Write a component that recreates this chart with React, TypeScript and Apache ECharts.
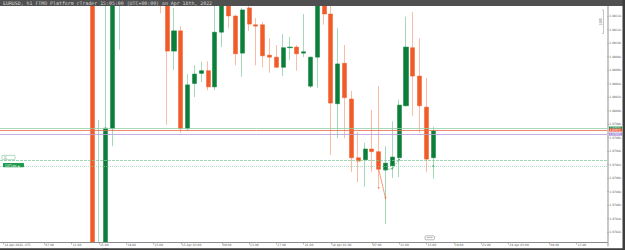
import React, { useEffect, useRef } from "react";
import * as echarts from "echarts";

// ---- data ----
const SLOT_COUNT = 89; // hourly slots shown on the time axis
const slots: string[] = Array.from({ length: SLOT_COUNT }, (_, i) => String(i));

const tickSlots = [0, 6, 10, 14, 18, 22, 26, 32, 36, 40, 44, 48, 54, 58, 62, 66, 70, 74, 80, 84];
const tickLabels = [
  "14 Apr 2022, UTC", "07:00", "11:00", "15:00", "19:00", "23:00", "15 Apr 03:00", "09:00",
  "13:00", "17:00", "21:00", "18 Apr 01:00", "07:00", "11:00", "15:00", "19:00", "23:00",
  "19 Apr 03:00", "09:00", "13:00",
];

const opens = [
  1.0890, 1.0893, 1.0896, 1.0898, 1.0890, 1.0887, 1.0891, 1.0889, 1.0884, 1.0887,
  1.0902, 1.0915, 1.0874, 1.0840, 1.0772, 1.0779, 1.07973, 1.0829, 1.0835, 1.0830,
  1.0833, 1.0826, 1.0829, 1.0825, 1.0821, 1.08088, 1.08118, 1.07973, 1.0804, 1.08055,
  1.08059, 1.08035, 1.08116, 1.0818, 1.0814, 1.08085, 1.08152, 1.08127, 1.08127, 1.08082,
  1.08079, 1.08064, 1.08093, 1.08094, 1.08085, 1.08036, 1.08079, 1.0817, 1.08143, 1.0801,
  1.0807, 1.08017, 1.0793, 1.07927, 1.07943, 1.07939, 1.07912, 1.07918, 1.0793, 1.08007,
  1.08093, 1.08051, 1.08005, 1.0793,
];
const highs = [
  1.0897, 1.0899, 1.0902, 1.0901, 1.0895, 1.0893, 1.0898, 1.0896, 1.0890, 1.0905,
  1.0924, 1.0919, 1.0880, 1.0845, 1.07986, 1.0824, 1.0834, 1.0841, 1.0842, 1.0838,
  1.0836, 1.0832, 1.0833, 1.0829, 1.0824, 1.08152, 1.08125, 1.08054, 1.08067, 1.08072,
  1.08073, 1.0818, 1.0821, 1.0820, 1.08142, 1.08152, 1.0817, 1.08137, 1.08131, 1.08107,
  1.08097, 1.08113, 1.08109, 1.08097, 1.08143, 1.0808, 1.0819, 1.0820, 1.0817, 1.08122,
  1.08097, 1.08029, 1.07968, 1.07952, 1.08001, 1.08036, 1.07947, 1.07984, 1.08016, 1.08139,
  1.08146, 1.08107, 1.08048, 1.07976,
];
const lows = [
  1.0886, 1.0889, 1.0891, 1.0887, 1.0884, 1.0882, 1.0886, 1.0880, 1.0876, 1.0885,
  1.0898, 1.0868, 1.0832, 1.0757, 1.0760, 1.0770, 1.07947, 1.0809, 1.0826, 1.0824,
  1.0822, 1.0821, 1.0823, 1.08144, 1.07979, 1.0806, 1.07967, 1.0797, 1.0802, 1.08042,
  1.0803, 1.0803, 1.08094, 1.08122, 1.08067, 1.0805, 1.08118, 1.08067, 1.08064, 1.08056,
  1.08063, 1.08051, 1.08075, 1.08059, 1.08079, 1.08033, 1.08033, 1.08127, 1.07934, 1.07959,
  1.07959, 1.07909, 1.07894, 1.07887, 1.07909, 1.07887, 1.07832, 1.079, 1.07901, 1.08006,
  1.07992, 1.07967, 1.07909, 1.07899,
];
const closes = [
  1.0893, 1.0896, 1.0898, 1.0890, 1.0887, 1.0891, 1.0889, 1.0884, 1.0887, 1.0902,
  1.0915, 1.0874, 1.0840, 1.0772, 1.0779, 1.07974, 1.0829, 1.0835, 1.0830, 1.0833,
  1.0826, 1.0829, 1.0825, 1.0821, 1.08088, 1.08118, 1.07973, 1.08038, 1.08054, 1.08059,
  1.08035, 1.08116, 1.0818, 1.0814, 1.08084, 1.08149, 1.08128, 1.08125, 1.08081, 1.08079,
  1.08064, 1.08093, 1.08094, 1.08084, 1.08087, 1.08079, 1.0817, 1.08143, 1.08011, 1.08069,
  1.08019, 1.0793, 1.07925, 1.07943, 1.07939, 1.07913, 1.07922, 1.07931, 1.08008, 1.08094,
  1.08051, 1.08007, 1.07928, 1.0797,
];

const askPrice = 1.07974;
const bidPrice = 1.07971;
const purplePrice = 1.07965;
const entryPrice = 1.07927;
const targetPrice = 1.07917;

const sellTradeLine: [number, number][] = [[55, 1.07913], [56, 1.0787]];
const sellTradeMarks: [number, number][] = [[55, 1.07885], [56, 1.0787]];
const buyTradeLine: [number, number][] = [[56, 1.07912], [57, 1.07914], [58, 1.07927]];
const buyTradeMarks: [number, number][] = [[56, 1.07912], [57, 1.07914], [58, 1.07927], [63, 1.07918]];

const Y_MIN = 1.078;
const Y_MAX = 1.0816;
const Y_STEP = 0.0002;

const TITLE = "EURUSD, h1 FTMO Platform cTrader 15:05:00 (UTC+00:00) on Apr 18th, 2022";

const UP = "#0b7f3a";
const DOWN = "#f15b28";
const UP_PALE = "#a6d8ba";
const DOWN_PALE = "#f9bda5";

export default function App() {
  const ref = useRef<HTMLDivElement>(null);

  useEffect(() => {
    if (!ref.current) return;
    const chart = echarts.init(ref.current, undefined, { renderer: "svg" });

    const fullData = opens.map((o, i) => [o, closes[i], lows[i], highs[i]]);
    const bodyData = opens.map((o, i) => [
      o,
      closes[i],
      Math.min(o, closes[i]),
      Math.max(o, closes[i]),
    ]);

    const tickSet = new Set(tickSlots);
    const labelFor = (idx: number) => {
      const k = tickSlots.indexOf(idx);
      return k >= 0 ? tickLabels[k] : "";
    };

    const priceLabel = (bg: string) => ({
      show: true,
      position: "end",
      distance: 1,
      formatter: (p: any) => Number(p.value).toFixed(5),
      fontSize: 2.6,
      lineHeight: 2.6,
      color: "#fff",
      backgroundColor: bg,
      padding: [0.2, 1.5, 0.2, 1.5],
    });

    chart.setOption({
      animation: false,
      textStyle: { fontFamily: "DejaVu Sans" },
      grid: { left: -1.4, right: 17.7, top: 2.5, bottom: 4.5, containLabel: false },
      xAxis: {
        type: "category",
        data: slots,
        z: 60,
        offset: -3.5,
        boundaryGap: true,
        axisLine: { show: true, lineStyle: { color: "#8a8a8a", width: 1 } },
        axisTick: {
          show: true,
          alignWithLabel: true,
          interval: (i: number) => tickSet.has(i),
          length: 2.5,
          lineStyle: { color: "#8a8a8a", width: 0.6 },
        },
        axisLabel: {
          show: true,
          interval: (i: number) => tickSet.has(i),
          formatter: (_v: string, i: number) => labelFor(i),
          align: "left",
          margin: 1.2,
          fontSize: 3,
          color: "#555",
          padding: [0, 0, 0, 1],
        },
        splitLine: { show: false },
      },
      yAxis: {
        type: "value",
        position: "right",
        min: Y_MIN,
        max: Y_MAX,
        interval: Y_STEP,
        scale: true,
        z: 60,
        axisLine: { show: true, lineStyle: { color: "#c8c8c8", width: 2 } },
        axisTick: { show: true, length: 1.5, lineStyle: { color: "#999", width: 0.6 } },
        axisLabel: {
          show: true,
          showMinLabel: false,
          showMaxLabel: false,
          margin: 2,
          color: "#555",
          fontSize: 3,
          formatter: (v: number) => {
            const s = v.toFixed(5);
            return `{a|${s.slice(0, -1)}}{b|${s.slice(-1)}}`;
          },
          rich: {
            a: { fontSize: 3, color: "#555" },
            b: { fontSize: 2.2, color: "#555", verticalAlign: "bottom" },
          },
        },
        splitLine: { show: false },
      },
      series: [
        {
          name: "wicks",
          type: "candlestick",
          data: fullData,
          barWidth: 1,
          clip: false,
          itemStyle: {
            color: UP_PALE,
            color0: DOWN_PALE,
            borderColor: UP_PALE,
            borderColor0: DOWN_PALE,
            borderWidth: 1,
          },
          z: 2,
        },
        {
          name: "bodies",
          type: "candlestick",
          data: bodyData,
          barWidth: 4.6,
          clip: false,
          itemStyle: {
            color: UP,
            color0: DOWN,
            borderColor: UP,
            borderColor0: DOWN,
            borderWidth: 0.5,
          },
          z: 3,
          markLine: {
            silent: true,
            symbol: ["none", "none"],
            precision: 5,
            data: [
              { yAxis: entryPrice, lineStyle: { color: "#7cc99a", type: [3, 1], width: 0.7 }, label: { show: false } },
              { yAxis: targetPrice, lineStyle: { color: "#8fd0a8", type: [1, 1], width: 0.7 }, label: { show: false } },
              { yAxis: purplePrice, lineStyle: { color: "#b39ddb", type: "solid", width: 0.8 }, label: priceLabel("#a58bd6") },
              { yAxis: askPrice, lineStyle: { color: "#8fd0a8", type: "solid", width: 0.8 }, label: priceLabel("#1e8a47") },
              { yAxis: bidPrice, lineStyle: { color: "#ee6a4a", type: "solid", width: 0.8 }, label: priceLabel("#ee5a3a") },
            ],
          },
        },
        {
          name: "sellTrade",
          type: "line",
          data: sellTradeLine,
          symbol: "none",
          lineStyle: { color: DOWN, width: 0.6 },
          z: 4,
        },
        {
          name: "sellMarks",
          type: "scatter",
          data: sellTradeMarks,
          symbol: "triangle",
          symbolRotate: 180,
          symbolSize: 2.2,
          itemStyle: { color: DOWN },
          z: 5,
        },
        {
          name: "buyTrade",
          type: "line",
          data: buyTradeLine,
          symbol: "none",
          lineStyle: { color: "#2e9a57", width: 0.6, type: [1.5, 1] },
          z: 4,
        },
        {
          name: "buyMarks",
          type: "scatter",
          data: buyTradeMarks,
          symbol: "rect",
          symbolSize: 1.5,
          itemStyle: { color: "#2e9a57" },
          z: 5,
        },
      ],
      graphic: [
        { type: "rect", z: 50, shape: { x: 0, y: 242.5, width: 625, height: 6 }, style: { fill: "#ffffff" } },
        { type: "rect", z: 100, shape: { x: 0, y: 0, width: 625, height: 6 }, style: { fill: "#505050" } },
        {
          type: "text", z: 101, x: 3, y: 3.2,
          style: { text: TITLE, fontSize: 4.9, fill: "#d6d6d6", verticalAlign: "middle", fontFamily: "DejaVu Sans Mono" },
        },
        { type: "rect", z: 100, shape: { x: 622.5, y: 0, width: 2.5, height: 250 }, style: { fill: "#3d3d3d" } },
        { type: "rect", z: 100, shape: { x: 0, y: 248.3, width: 625, height: 1.7 }, style: { fill: "#3d3d3d" } },
        {
          type: "polyline", z: 70,
          shape: { points: [[602, 10], [603.5, 10], [603.5, 33.5], [602, 33.5]] },
          style: { stroke: "#888", lineWidth: 0.5, fill: "none" },
        },
        {
          type: "text", z: 70, x: 600.5, y: 22, rotation: Math.PI / 2,
          style: { text: "1.000", fontSize: 2.8, fill: "#666", align: "center", verticalAlign: "middle" },
        },
        { type: "rect", z: 70, shape: { x: 2, y: 155.3, width: 13, height: 4.4, r: 0.8 }, style: { fill: "#fff", stroke: "#5cb87a", lineWidth: 0.5 } },
        { type: "text", z: 71, x: 4, y: 157.5, style: { text: "1L", fontSize: 2.8, fill: "#3b8f5a", verticalAlign: "middle" } },
        { type: "rect", z: 70, shape: { x: 3, y: 163, width: 21, height: 4.2, r: 0.6 }, style: { fill: "#1f9a4e" } },
        { type: "text", z: 71, x: 5, y: 165.1, style: { text: "1.07 Lots ▲", fontSize: 2.8, fill: "#fff", verticalAlign: "middle" } },
        { type: "rect", z: 65, shape: { x: 425, y: 235.8, width: 9.5, height: 4, r: 1.2 }, style: { fill: "#fff", stroke: "#777", lineWidth: 0.5 } },
        { type: "text", z: 66, x: 429.7, y: 237.8, style: { text: "15:05", fontSize: 2.4, fill: "#444", align: "center", verticalAlign: "middle" } },
      ],
    });

    return () => chart.dispose();
  }, []);

  return (
    <div
      ref={ref}
      style={{ position: "fixed", left: 0, top: 0, width: 625, height: 250, background: "#fff" }}
    />
  );
}
